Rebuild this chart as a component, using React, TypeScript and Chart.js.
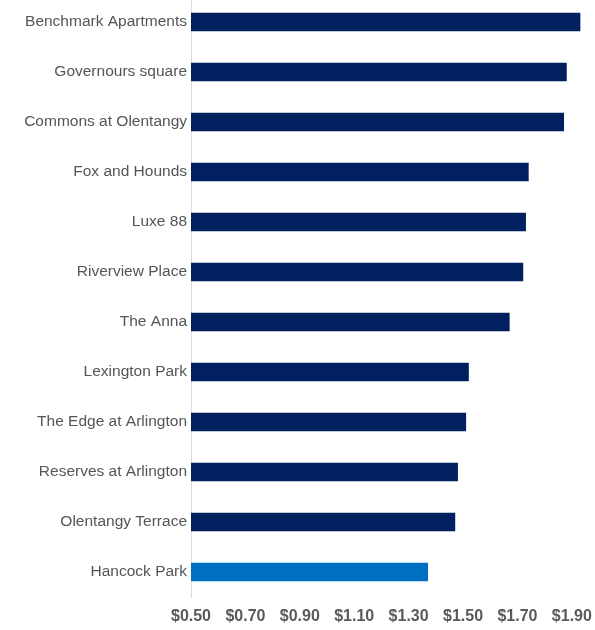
import React, { useEffect, useRef } from "react";
import { Chart, registerables } from "chart.js";

Chart.register(...registerables);

const categories = [
  "Benchmark Apartments",
  "Governours square",
  "Commons at Olentangy",
  "Fox and Hounds",
  "Luxe 88",
  "Riverview Place",
  "The Anna",
  "Lexington Park",
  "The Edge at Arlington",
  "Reserves at Arlington",
  "Olentangy Terrace",
  "Hancock Park",
];

const rentPerSqFt = [1.93, 1.88, 1.87, 1.74, 1.73, 1.72, 1.67, 1.52, 1.51, 1.48, 1.47, 1.37];

const barColors = [
  "#002060", "#002060", "#002060", "#002060", "#002060", "#002060",
  "#002060", "#002060", "#002060", "#002060", "#002060", "#0070C0",
];

const xTickValues = [0.5, 0.7, 0.9, 1.1, 1.3, 1.5, 1.7, 1.9];

export default function App() {
  const canvasRef = useRef<HTMLCanvasElement | null>(null);

  useEffect(() => {
    if (!canvasRef.current) return;
    const chart = new Chart(canvasRef.current, {
      type: "bar",
      data: {
        labels: categories,
        datasets: [
          {
            data: rentPerSqFt,
            backgroundColor: barColors,
            borderWidth: 0,
            barThickness: 18,
          },
        ],
      },
      options: {
        indexAxis: "y",
        animation: false,
        responsive: false,
        devicePixelRatio: 1,
        layout: { padding: 0 },
        plugins: {
          legend: { display: false },
          tooltip: { enabled: false },
        },
        scales: {
          x: {
            min: 0.5,
            max: 1.985,
            grid: { display: false, drawTicks: false, tickLength: 0 },
            border: { display: false },
            afterBuildTicks: (scale: any) => {
              scale.ticks = xTickValues.map((v) => ({ value: v }));
            },
            afterFit: (scale: any) => {
              scale.height = 33;
              scale.paddingLeft = 0;
              scale.paddingRight = 0;
            },
            ticks: {
              padding: 10,
              color: "#595959",
              font: { family: "'Liberation Sans', Arial, sans-serif", size: 16, weight: "bold" },
              callback: (v: any) => "$" + Number(v).toFixed(2),
              maxRotation: 0,
              autoSkip: false,
            },
          },
          y: {
            grid: { display: false, drawTicks: false, tickLength: 0 },
            border: { display: true, color: "#d9d9d9", width: 1 },
            afterFit: (scale: any) => {
              scale.width = 191;
              scale.paddingTop = 0;
              scale.paddingBottom = 0;
            },
            ticks: {
              padding: 4,
              color: "#555555",
              font: { family: "'Liberation Sans', Arial, sans-serif", size: 15.5 },
              autoSkip: false,
            },
          },
        },
      },
    } as any);
    return () => chart.destroy();
  }, []);

  return (
    <div style={{ position: "fixed", left: 0, top: -3, width: 595, height: 633, background: "#fff" }}>
      <canvas ref={canvasRef} width={595} height={633} style={{ width: 595, height: 633, display: "block" }} />
    </div>
  );
}
